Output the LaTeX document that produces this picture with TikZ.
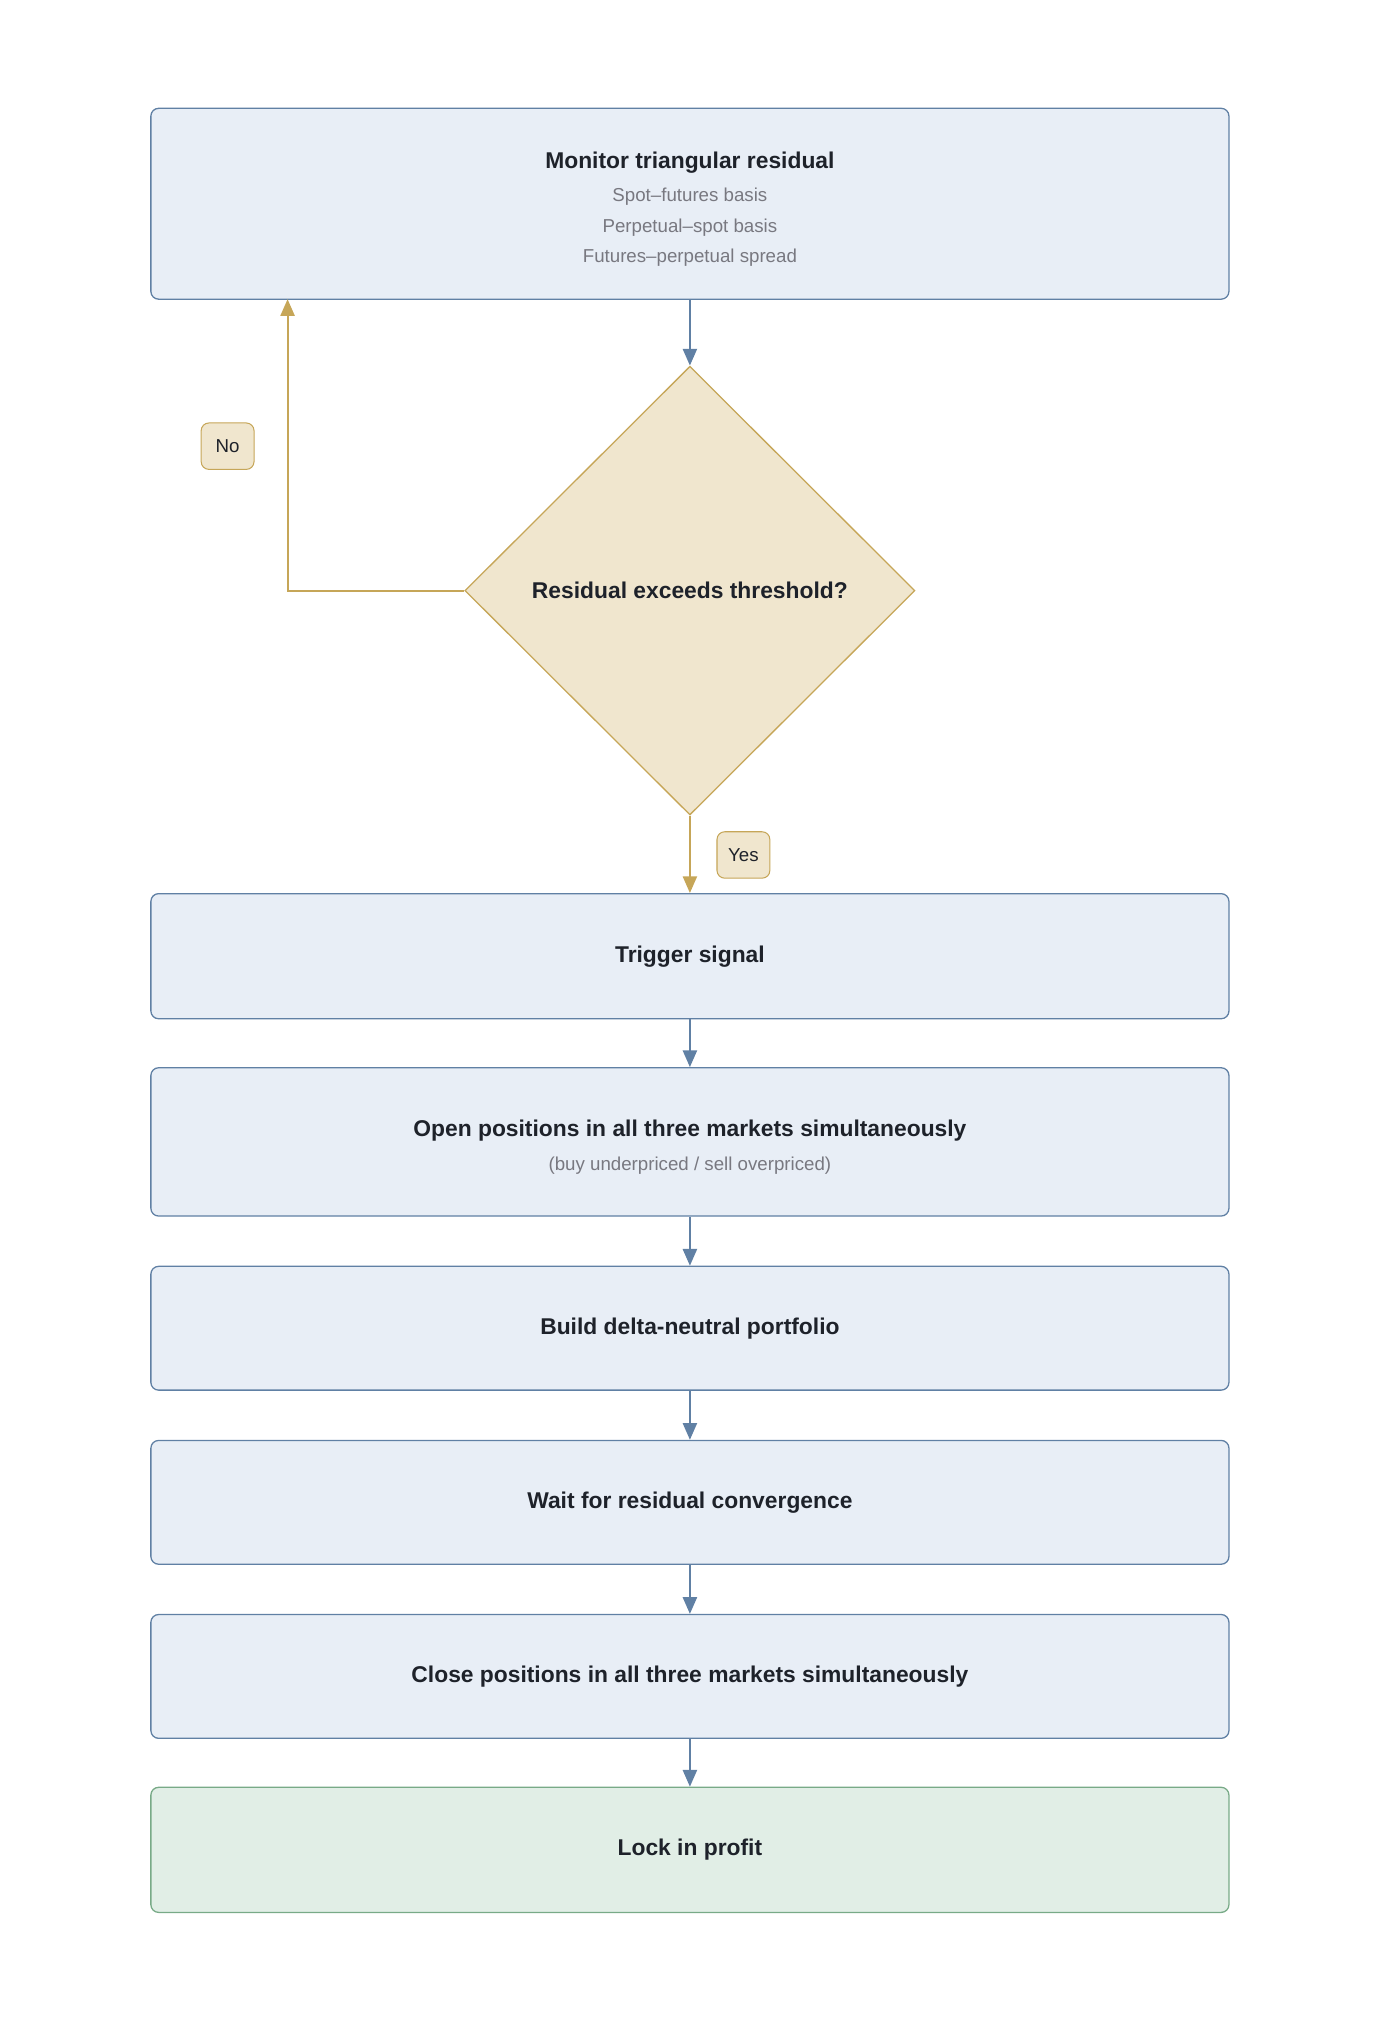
\documentclass[tikz,border=0pt]{standalone}
\usepackage{fontspec}
\setmainfont{Liberation Sans}
\usepackage{xcolor}
\usetikzlibrary{shapes.geometric,arrows.meta}
\definecolor{stepfill}{RGB}{232, 238, 246}
\definecolor{stepline}{RGB}{96, 128, 164}
\definecolor{askfill}{RGB}{240, 230, 206}
\definecolor{askline}{RGB}{198, 166, 88}
\definecolor{donefill}{RGB}{225, 238, 230}
\definecolor{doneline}{RGB}{120, 170, 135}
\definecolor{inktext}{RGB}{30, 34, 42}
\definecolor{subtext}{RGB}{120, 120, 128}

\tikzset{
    stepbox/.style={
        draw=stepline, fill=stepfill, line width=1pt,
        rounded corners=6pt, minimum width=836pt, inner sep=0pt,
        align=center, text=inktext,
        font=\fontsize{17.7}{21.5}\selectfont\bfseries
    },
    askbox/.style={
        shape=diamond, draw=askline, fill=askfill, line width=1pt,
        minimum width=349pt, minimum height=348pt, inner sep=0pt,
        text=inktext, font=\fontsize{17.7}{21.5}\selectfont\bfseries
    },
    tagbox/.style={
        draw=askline, fill=askfill, line width=0.8pt,
        rounded corners=6pt, minimum width=41pt, minimum height=36pt,
        inner sep=0pt, text=inktext, font=\fontsize{14.5}{16}\selectfont
    },
    flow/.style={draw=stepline, line width=1.5pt,
        -{Triangle[length=13pt,width=11pt]}},
    loop/.style={draw=askline, line width=1.5pt,
        -{Triangle[length=13pt,width=11pt]}}
}
\newcommand{\subline}[1]{{\fontsize{14.5}{17}\selectfont\mdseries\color{subtext}#1}}
\newcommand{\topgap}{\rule{0pt}{21pt}}

\begin{document}
\begin{tikzpicture}[x=1pt, y=-1pt]
    \useasboundingbox (0,0) rectangle (1070,1568);

    % steps of the strategy
    \node[stepbox, minimum height=148pt] (monitor) at (535,158)
        {\topgap Monitor triangular residual\\[4.5pt]
         \subline{Spot--futures basis}\\[2pt]
         \subline{Perpetual--spot basis}\\[2pt]
         \subline{Futures--perpetual spread}};
    \node[askbox] (check) at (535,458) {Residual exceeds threshold?};
    \node[stepbox, minimum height=97pt] (trigger) at (535,741.5) {Trigger signal};
    \node[stepbox, minimum height=115pt] (open) at (535,885.5)
        {\topgap Open positions in all three markets simultaneously\\[4.5pt]
         \subline{(buy underpriced / sell overpriced)}};
    \node[stepbox, minimum height=96pt] (build) at (535,1030) {Build delta-neutral portfolio};
    \node[stepbox, minimum height=96pt] (wait) at (535,1165) {Wait for residual convergence};
    \node[stepbox, minimum height=96pt] (close) at (535,1300) {Close positions in all three markets simultaneously};
    \node[stepbox, minimum height=97pt, draw=doneline, fill=donefill] (profit) at (535,1434.5) {Lock in profit};

    % answers
    \node[tagbox] (no) at (176.5,346) {No};
    \node[tagbox] (yes) at (576.5,663) {Yes};

    % connectors
    \draw[flow] (monitor) -- (check);
    \draw[loop] (check.west) -| (223,232);
    \draw[loop] (check) -- (trigger);
    \draw[flow] (trigger) -- (open);
    \draw[flow] (open) -- (build);
    \draw[flow] (build) -- (wait);
    \draw[flow] (wait) -- (close);
    \draw[flow] (close) -- (profit);
\end{tikzpicture}
\end{document}
